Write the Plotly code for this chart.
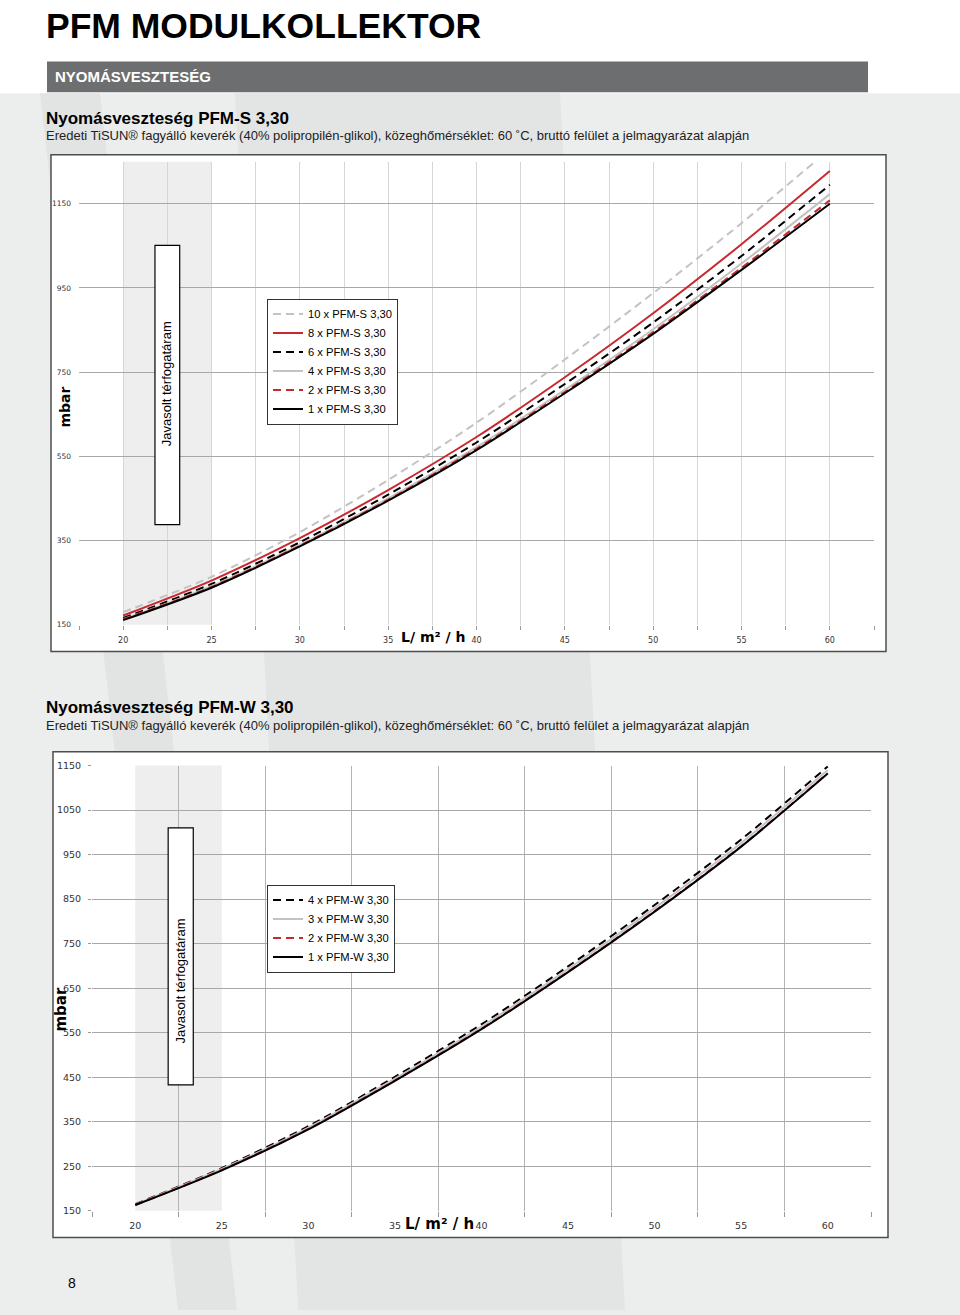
import plotly.graph_objects as go

# ---------------- data ----------------
flow = [20, 25, 30, 35, 40, 45, 50, 55, 60]

s_labels = ["10 x PFM-S 3,30", "8 x PFM-S 3,30", "6 x PFM-S 3,30",
            "4 x PFM-S 3,30", "2 x PFM-S 3,30", "1 x PFM-S 3,30"]
s_10 = [180, 264, 370, 494, 630, 780, 938, 1104, 1280]
s_8 = [172, 255, 356, 470, 596, 738, 890, 1054, 1228]
s_6 = [166, 247, 346, 459, 583, 722, 868, 1026, 1195]
s_4 = [163, 242, 340, 450, 572, 708, 852, 1008, 1173]
s_2 = [163, 240, 338, 447, 568, 703, 845, 998, 1158]
s_1 = [161, 238, 336, 445, 565, 700, 841, 993, 1150]

w_labels = ["4 x PFM-W 3,30", "3 x PFM-W 3,30", "2 x PFM-W 3,30", "1 x PFM-W 3,30"]
w_4 = [165, 246, 340, 451, 569, 699, 837, 984, 1148]
w_3 = [164, 244, 337, 447, 564, 693, 830, 976, 1140]
w_2 = [163, 242, 334, 443, 559, 687, 823, 969, 1133]
w_1 = [163, 241, 333, 442, 558, 686, 822, 968, 1132]

x_ticks = [20, 25, 30, 35, 40, 45, 50, 55, 60]
y1_ticks = [150, 350, 550, 750, 950, 1150]
y2_ticks = [150, 250, 350, 450, 550, 650, 750, 850, 950, 1050, 1150]

recommended = [20, 25]  # Javasolt térfogatáram band

page_title = "PFM MODULKOLLEKTOR"
section = "NYOMÁSVESZTESÉG"
title_s = "Nyomásveszteség PFM-S 3,30"
title_w = "Nyomásveszteség PFM-W 3,30"
desc = ("Eredeti TiSUN® fagyálló keverék (40% polipropilén-glikol), közeghőmérséklet: 60 ˚C, "
        "bruttó felület a jelmagyarázat alapján")
box_text = "Javasolt térfogatáram"

# ---------------- helpers ----------------
W, H = 960, 1315
def px(x):
    return x / W
def py(y):
    return 1 - y / H

RED = "#c8282e"
LGRAY = "#c3c3c3"
SANS = "Liberation Sans, Arial, sans-serif"
VER = "DejaVu Sans, Verdana, sans-serif"
DASH = "8px,5px"

fig = go.Figure()

styles_s = [
    (s_10, LGRAY, DASH), (s_8, RED, "solid"), (s_6, "black", DASH),
    (s_4, LGRAY, "solid"), (s_2, RED, DASH), (s_1, "black", "solid"),
]
for (vals, col, dash), name in zip(styles_s, s_labels):
    fig.add_trace(go.Scatter(x=flow, y=vals, name=name, mode="lines",
                             line=dict(color=col, width=2, dash=dash, shape="spline", smoothing=0.8),
                             xaxis="x", yaxis="y", legend="legend"))

styles_w = [
    (w_4, "black", DASH), (w_3, LGRAY, "solid"), (w_2, RED, DASH), (w_1, "black", "solid"),
]
for (vals, col, dash), name in zip(styles_w, w_labels):
    fig.add_trace(go.Scatter(x=flow, y=vals, name=name, mode="lines",
                             line=dict(color=col, width=2, dash=dash, shape="spline", smoothing=0.8),
                             xaxis="x2", yaxis="y2", legend="legend2"))

shapes = []
# page background: grey lower part with diagonal bands (white top comes from paper)
shapes.append(dict(type="rect", xref="paper", yref="paper", x0=-0.01, x1=1.01, y0=-0.02, y1=py(88),
                   fillcolor="#eceeed", line_width=0, layer="below"))
shapes.append(dict(type="path", xref="paper", yref="paper",
                   path=f"M {px(40)} {py(88)} L {px(100)} {py(88)} L {px(237)} {py(1315)} L {px(178)} {py(1315)} Z",
                   fillcolor="#e2e4e3", line_width=0, layer="below"))
shapes.append(dict(type="path", xref="paper", yref="paper",
                   path=f"M {px(235)} {py(88)} L {px(560)} {py(88)} L {px(625)} {py(1315)} L {px(298)} {py(1315)} Z",
                   fillcolor="#e3e5e4", line_width=0, layer="below"))
# section header bar
shapes.append(dict(type="rect", xref="paper", yref="paper", x0=px(47), x1=px(868), y0=py(87), y1=py(56),
                   fillcolor="#6d6e70", line_width=0, layer="below"))
# chart frames
shapes.append(dict(type="rect", xref="paper", yref="paper", x0=px(51), x1=px(886), y0=py(651), y1=py(150),
                   fillcolor="white", line=dict(color="#4d4d4d", width=1.5), layer="below"))
shapes.append(dict(type="rect", xref="paper", yref="paper", x0=px(53), x1=px(888), y0=py(1242), y1=py(752),
                   fillcolor="white", line=dict(color="#4d4d4d", width=1.5), layer="below"))
# recommended flow bands
shapes.append(dict(type="rect", xref="x", yref="paper", x0=recommended[0], x1=recommended[1],
                   y0=py(624), y1=py(157), fillcolor="#eeeeee", line_width=0, layer="below"))
shapes.append(dict(type="rect", xref="x2", yref="paper", x0=recommended[0], x1=recommended[1],
                   y0=py(1215), y1=py(766), fillcolor="#eeeeee", line_width=0, layer="below"))
# Javasolt boxes
shapes.append(dict(type="rect", xref="x", yref="y", x0=21.8, x1=23.2, y0=388, y1=1051,
                   fillcolor="white", line=dict(color="black", width=1.2), layer="above"))
shapes.append(dict(type="rect", xref="x2", yref="y2", x0=21.9, x1=23.35, y0=433, y1=1010,
                   fillcolor="white", line=dict(color="black", width=1.2), layer="above"))

ann = []
def add_text(text, x, y, size, family, color="black", xanchor="left", yanchor="middle", angle=0, xref="paper", yref="paper"):
    ann.append(dict(text=text, x=x, y=y, xref=xref, yref=yref, xanchor=xanchor, yanchor=yanchor,
                    showarrow=False, textangle=angle, font=dict(size=size, family=family, color=color)))

add_text(f"<b>{page_title}</b>", px(44), py(20), 35.5, SANS)
add_text(f"<b>{section}</b>", px(53), py(71), 15, SANS, color="white")
add_text(f"<b>{title_s}</b>", px(44), py(113), 17, SANS)
add_text(desc, px(44), py(131), 13, SANS, color="#222")
add_text(f"<b>{title_w}</b>", px(44), py(707), 17, SANS)
add_text(desc, px(44), py(726), 13, SANS, color="#222")
add_text("8", px(72), py(1288), 14, SANS, xanchor="center")
# axis titles
add_text("<b>mbar</b>", px(65), py(405), 14, VER, xanchor="center", angle=-90)
add_text("<b>mbar</b>", px(61), py(1012), 15, VER, xanchor="center", angle=-90)
add_text("<b>L/ m² / h</b>", px(433), py(636), 14, VER, xanchor="center")
add_text("<b>L/ m² / h</b>", px(439), py(1228), 15, VER, xanchor="center")
# box texts
add_text(box_text, 22.5, 722, 13, SANS, xanchor="center", angle=-90, xref="x", yref="y")
add_text(box_text, 22.63, 667, 13, SANS, xanchor="center", angle=-90, xref="x2", yref="y2")

tickfont1 = dict(size=8, family=VER, color="#333")
tickfont2 = dict(size=9.5, family=VER, color="#333")
legfont = dict(size=11.2, family=SANS, color="black")

fig.update_layout(
    width=W, height=H, margin=dict(l=0, r=0, t=0, b=0),
    paper_bgcolor="white", plot_bgcolor="white",
    shapes=shapes, annotations=ann,
    xaxis=dict(domain=[px(79), px(874)], range=[17.5, 62.5], tickvals=x_ticks,
               showgrid=True, gridcolor="#d6d6d6", gridwidth=1, zeroline=False, showline=False,
               ticks="outside", ticklen=4, tickcolor="#999", tickfont=tickfont1, ticklabelstandoff=4,
               minor=dict(tick0=17.5, dtick=5, showgrid=True, gridcolor="#d6d6d6", ticks="outside",
                          ticklen=4, tickcolor="#999"),
               anchor="y", fixedrange=True),
    yaxis=dict(domain=[py(624), py(157)], range=[150, 1250], tickvals=y1_ticks,
               showgrid=True, gridcolor="#a8a8a8", gridwidth=1, zeroline=False, showline=False,
               ticks="", tickfont=dict(size=7.5, family=VER, color="#333"),
               ticklabelstandoff=7, anchor="x", fixedrange=True),
    xaxis2=dict(domain=[px(92), px(871)], range=[17.5, 62.5], tickvals=x_ticks,
                showgrid=False, zeroline=False, showline=False, ticks="", tickfont=tickfont2,
                ticklabelstandoff=8,
                minor=dict(tick0=17.5, dtick=5, showgrid=True, gridcolor="#b3b3b3", ticks="outside",
                           ticklen=5, tickcolor="#999"),
                anchor="y2", fixedrange=True),
    yaxis2=dict(domain=[py(1215), py(766)], range=[150, 1150], tickvals=y2_ticks,
                showgrid=True, gridcolor="#a8a8a8", gridwidth=1, zeroline=False, showline=False,
                ticks="outside", ticklen=3, tickcolor="#999", tickfont=tickfont2,
                ticklabelstandoff=5, anchor="x2", fixedrange=True),
    legend=dict(x=px(267), y=py(295), xanchor="left", yanchor="top", bgcolor="white",
                bordercolor="#333", borderwidth=1, font=legfont,
                tracegroupgap=0, itemwidth=30),
    legend2=dict(x=px(267), y=py(886), xanchor="left", yanchor="top", bgcolor="white",
                 bordercolor="#333", borderwidth=1, font=legfont,
                 tracegroupgap=0, itemwidth=30),
    showlegend=True,
)

fig.write_html("out.html")
